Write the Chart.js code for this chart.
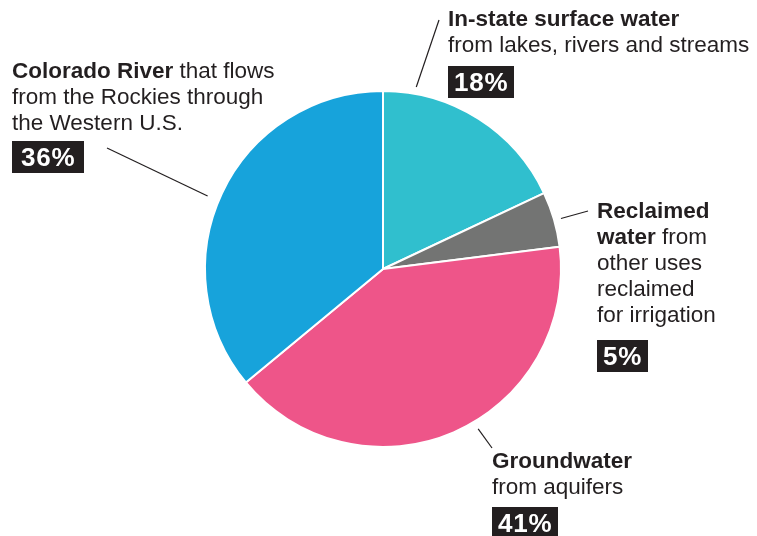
<!DOCTYPE html>
<html>
<head>
<meta charset="utf-8">
<script src="https://cdn.jsdelivr.net/npm/chart.js@4.4.0/dist/chart.umd.min.js"></script>
<style>
    html, body { margin: 0; padding: 0; background: #fff; }
    #wrap { position: relative; width: 757px; height: 536px; overflow: hidden; }
    #pie { position: absolute; left: 0; top: 0; }
    .lbl { position: absolute; font-family: "Liberation Sans", Arial, sans-serif; font-size: 22.5px; line-height: 26px; color: #231f20; white-space: nowrap; }
    .lbl b { font-weight: bold; }
    .pct { display: inline-block; background: #231f20; color: #fff; font-weight: bold; font-size: 26px; line-height: 32px; padding: 0 6px; letter-spacing: 0.8px; }
</style>
</head>
<body>
<div id="wrap">
    <canvas id="pie" width="757" height="536"></canvas>
    <div class="lbl" style="left:448px; top:6px;"><b>In-state surface water</b><br>from lakes, rivers and streams<br><span class="pct" style="margin-top:8px;">18%</span></div>
    <div class="lbl" style="left:597px; top:198px;"><b>Reclaimed<br>water</b> from<br>other uses<br>reclaimed<br>for irrigation<br><span class="pct" style="margin-top:12px;">5%</span></div>
    <div class="lbl" style="left:492px; top:448px;"><b>Groundwater</b><br>from aquifers<br><span class="pct" style="margin-top:7px;">41%</span></div>
    <div class="lbl" style="left:12px; top:58px;"><b>Colorado River</b> that flows<br>from the Rockies through<br>the Western U.S.<br><span class="pct" style="margin-top:5px; padding:0 9px;">36%</span></div>
</div>
<script>
// slices, clockwise from 12 o'clock
var categories = ["In-state surface water", "Reclaimed water", "Groundwater", "Colorado River"];
var shares = [18, 5, 41, 36];
var colors = ["#30bfce", "#737473", "#ee5589", "#17a3db"];

// leader lines: where along the slice they start, gap from the rim, and the end point near the text
var leaders = [
    { frac: 0.16, gap: 7, x: 439, y: 20 },
    { frac: 0.52, gap: 7, x: 588, y: 211 },
    { frac: 0.45, gap: 8, x: 492, y: 448 },
    { frac: 0.48, gap: 12, x: 107, y: 148 }
];

var leaderPlugin = {
    id: "leaders",
    afterDatasetsDraw: function (chart) {
        var ctx = chart.ctx;
        var arcs = chart.getDatasetMeta(0).data;
        ctx.save();
        ctx.strokeStyle = "#231f20";
        ctx.lineWidth = 1.2;
        for (var i in arcs) {
            var a = arcs[i];
            var l = leaders[i];
            var ang = a.startAngle + l.frac * (a.endAngle - a.startAngle);
            var r = a.outerRadius + l.gap;
            ctx.beginPath();
            ctx.moveTo(a.x + Math.cos(ang) * r, a.y + Math.sin(ang) * r);
            ctx.lineTo(l.x, l.y);
            ctx.stroke();
        }
        ctx.restore();
    }
};

new Chart(document.getElementById("pie"), {
    type: "pie",
    data: {
        labels: categories,
        datasets: [{
            data: shares,
            backgroundColor: colors,
            borderColor: "#ffffff",
            borderWidth: 2
        }]
    },
    options: {
        responsive: false,
        animation: false,
        layout: { padding: { left: 204, right: 195, top: 90, bottom: 88 } },
        plugins: {
            legend: { display: false },
            tooltip: { enabled: false }
        }
    },
    plugins: [leaderPlugin]
});
</script>
</body>
</html>
